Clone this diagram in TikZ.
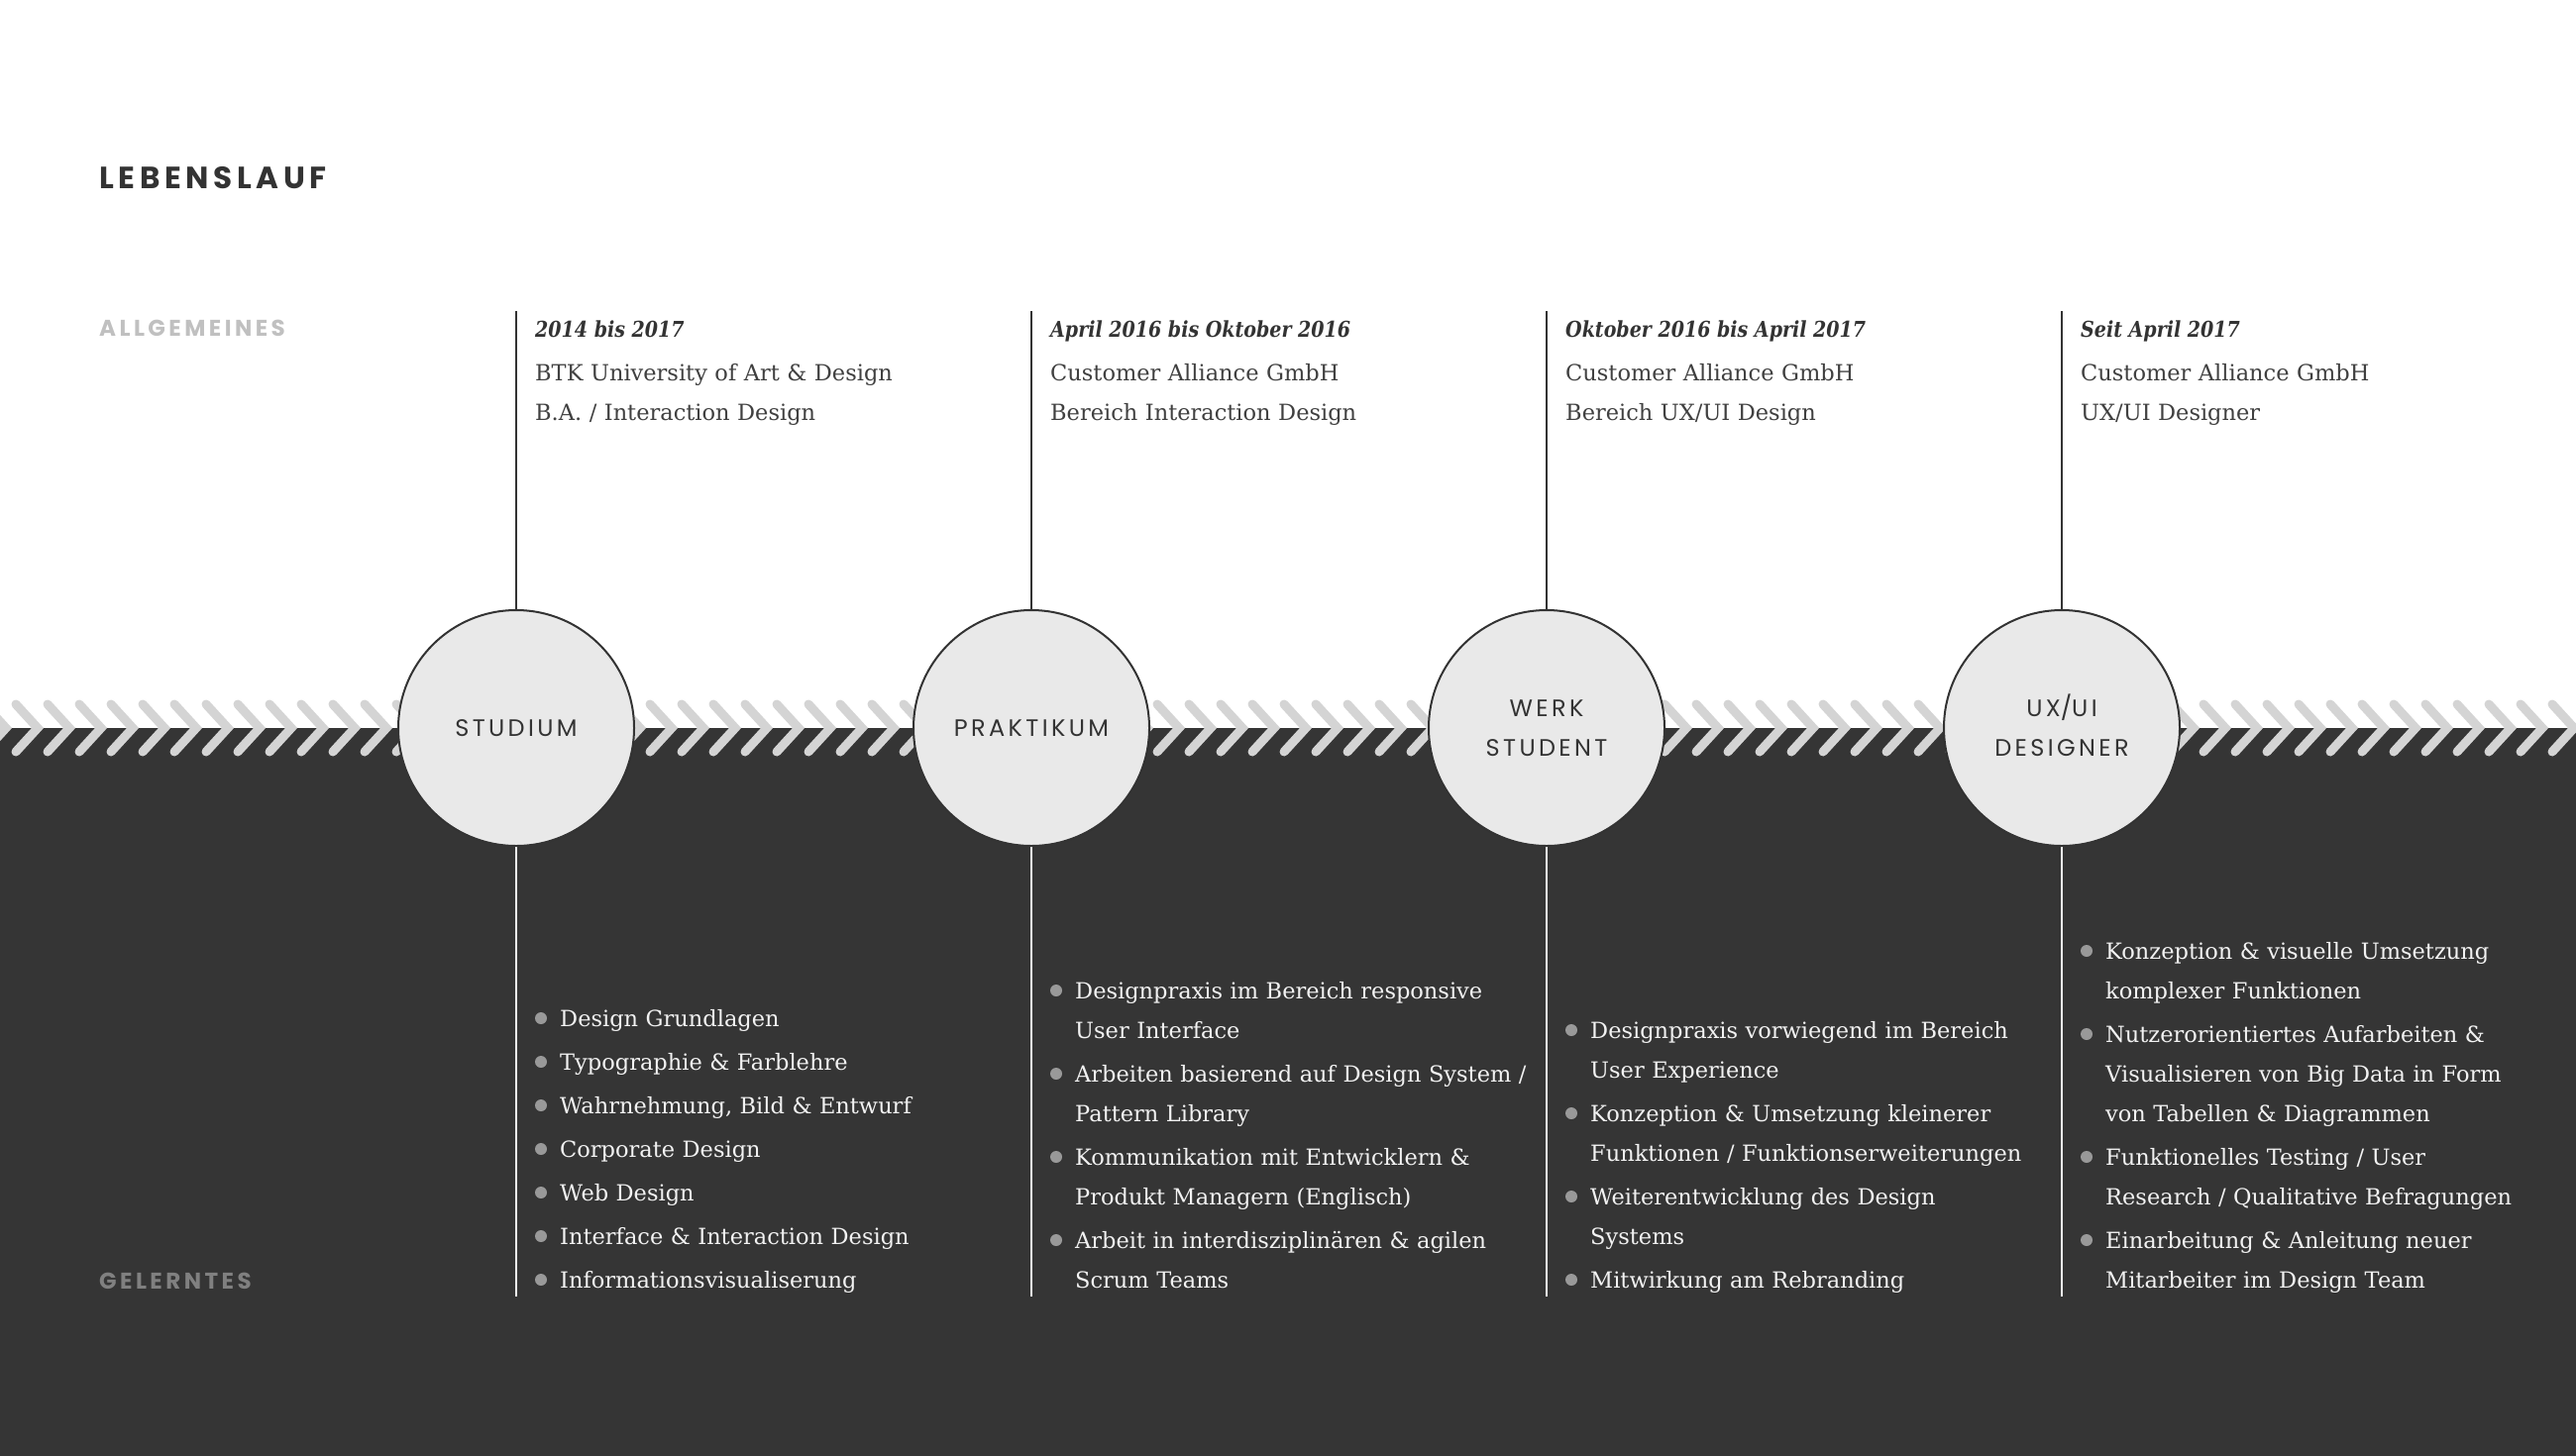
\documentclass[tikz,border=0pt]{standalone}
\usepackage{fontspec}
\setmainfont{DejaVu Serif}
\newfontfamily\headfont[LetterSpace=15]{Poppins}
\newfontfamily\stagefont[LetterSpace=14]{Poppins}
\newfontfamily\datefont[FakeStretch=0.865]{DejaVu Serif}
\definecolor{ink}{HTML}{333333}
\definecolor{bodyink}{HTML}{404040}
\definecolor{darkbg}{HTML}{353535}
\definecolor{chev}{HTML}{D4D4D4}
\definecolor{stagefill}{HTML}{E9E9E9}
\definecolor{lightlabel}{HTML}{C0C0C0}
\definecolor{darklabel}{HTML}{808080}
\definecolor{listink}{HTML}{F2F2F2}
\definecolor{bulletc}{HTML}{999999}
\tikzset{
  stage/.style={circle, draw=ink, line width=2pt, fill=stagefill, minimum size=238pt, inner sep=0pt,
    align=center, text=ink, font=\stagefont\fontsize{24}{40}\selectfont},
  chevron/.style={draw=chev, line width=9pt, line cap=round, line join=miter},
  upline/.style={draw=ink, line width=2pt},
  downline/.style={draw=listink, line width=2pt},
  title/.style={anchor=base west, inner sep=0pt, text=ink, font=\headfont\bfseries\fontsize{31}{36}\selectfont},
  sectionlabel/.style={anchor=base west, inner sep=0pt, font=\headfont\bfseries\fontsize{23}{26}\selectfont},
  datetext/.style={anchor=base west, inner sep=0pt, text=ink, font=\datefont\bfseries\itshape\fontsize{22}{40}\selectfont},
  infotext/.style={anchor=base west, inner sep=0pt, text=bodyink, text width=480pt, align=left, font=\fontsize{22.5}{40}\selectfont},
  itemtext/.style={anchor=base west, inner sep=0pt, text=listink, text width=480pt, align=left, font=\fontsize{22.5}{40}\selectfont},
  bullet/.style={circle, fill=bulletc, inner sep=0pt, minimum size=12pt},
}
\begin{document}
\begin{tikzpicture}[x=1pt,y=-1pt]
\useasboundingbox (0,0) rectangle (2600,1470);
\fill[white] (0,0) rectangle (2600,1470);
\fill[darkbg] (0,735) rectangle (2600,1470);
% chevron band
\foreach \k in {0,...,81}{
  \pgfmathsetmacro{\tx}{6+32*\k}
  \draw[chevron] (\tx-22,711) -- (\tx,735) -- (\tx-22,759);
}
% headings
\node[title] (title) at (100,190) {LEBENSLAUF};
\node[sectionlabel, text=lightlabel] (allg) at (100,339) {ALLGEMEINES};
\node[sectionlabel, text=darklabel] (gel) at (100,1301) {GELERNTES};
% stages
\node[stage] (c1) at (521,735) {STUDIUM};
\node[stage] (c2) at (1041,735) {PRAKTIKUM};
\node[stage] (c3) at (1561,735) {WERK\\STUDENT};
\node[stage] (c4) at (2081,735) {UX\smash{/}UI\\DESIGNER};
% connector ends
\coordinate (t1) at (521,314); \coordinate (b1) at (521,1309);
\coordinate (t2) at (1041,314); \coordinate (b2) at (1041,1309);
\coordinate (t3) at (1561,314); \coordinate (b3) at (1561,1309);
\coordinate (t4) at (2081,314); \coordinate (b4) at (2081,1309);
\foreach \i in {1,2,3,4}{
  \draw[upline] (t\i) -- (c\i.north);
  \draw[downline] (c\i.south) -- (b\i);
}
% top texts
\node[datetext] (d1) at (540,340) {2014 bis 2017};
\node[infotext] (i1) at (540,384) {BTK University of Art \& Design\\B.A. / Interaction Design};
\node[datetext] (d2) at (1060,340) {April 2016 bis Oktober 2016};
\node[infotext] (i2) at (1060,384) {Customer Alliance GmbH\\Bereich Interaction Design};
\node[datetext] (d3) at (1580,340) {Oktober 2016 bis April 2017};
\node[infotext] (i3) at (1580,384) {Customer Alliance GmbH\\Bereich UX/UI Design};
\node[datetext] (d4) at (2100,340) {Seit April 2017};
\node[infotext] (i4) at (2100,384) {Customer Alliance GmbH\\UX/UI Designer};
% column 1 list
\node[bullet] (p1a) at (546,1028) {}; \node[itemtext] (g1a) at (565,1036) {Design Grundlagen};
\node[bullet] (p1b) at (546,1072) {}; \node[itemtext] (g1b) at (565,1080) {Typographie \& Farblehre};
\node[bullet] (p1c) at (546,1116) {}; \node[itemtext] (g1c) at (565,1124) {Wahrnehmung, Bild \& Entwurf};
\node[bullet] (p1d) at (546,1160) {}; \node[itemtext] (g1d) at (565,1168) {Corporate Design};
\node[bullet] (p1e) at (546,1204) {}; \node[itemtext] (g1e) at (565,1212) {Web Design};
\node[bullet] (p1f) at (546,1248) {}; \node[itemtext] (g1f) at (565,1256) {Interface \& Interaction Design};
\node[bullet] (p1g) at (546,1292) {}; \node[itemtext] (g1g) at (565,1300) {Informationsvisualiserung};
% column 2 list
\node[bullet] (p2a) at (1066,1000) {}; \node[itemtext] (g2a) at (1085,1008) {Designpraxis im Bereich responsive\\User Interface};
\node[bullet] (p2b) at (1066,1084) {}; \node[itemtext] (g2b) at (1085,1092) {Arbeiten basierend auf Design System /\\Pattern Library};
\node[bullet] (p2c) at (1066,1168) {}; \node[itemtext] (g2c) at (1085,1176) {Kommunikation mit Entwicklern \&\\Produkt Managern (Englisch)};
\node[bullet] (p2d) at (1066,1252) {}; \node[itemtext] (g2d) at (1085,1260) {Arbeit in interdisziplinären \& agilen\\Scrum Teams};
% column 3 list
\node[bullet] (p3a) at (1586,1040) {}; \node[itemtext] (g3a) at (1605,1048) {Designpraxis vorwiegend im Bereich\\User Experience};
\node[bullet] (p3b) at (1586,1124) {}; \node[itemtext] (g3b) at (1605,1132) {Konzeption \& Umsetzung kleinerer\\Funktionen / Funktionserweiterungen};
\node[bullet] (p3c) at (1586,1208) {}; \node[itemtext] (g3c) at (1605,1216) {Weiterentwicklung des Design\\Systems};
\node[bullet] (p3d) at (1586,1292) {}; \node[itemtext] (g3d) at (1605,1300) {Mitwirkung am Rebranding};
% column 4 list
\node[bullet] (p4a) at (2106,960) {}; \node[itemtext] (g4a) at (2125,968) {Konzeption \& visuelle Umsetzung\\komplexer Funktionen};
\node[bullet] (p4b) at (2106,1044) {}; \node[itemtext] (g4b) at (2125,1052) {Nutzerorientiertes Aufarbeiten \&\\Visualisieren von Big Data in Form\\von Tabellen \& Diagrammen};
\node[bullet] (p4c) at (2106,1168) {}; \node[itemtext] (g4c) at (2125,1176) {Funktionelles Testing / User\\Research / Qualitative Befragungen};
\node[bullet] (p4d) at (2106,1252) {}; \node[itemtext] (g4d) at (2125,1260) {Einarbeitung \& Anleitung neuer\\Mitarbeiter im Design Team};
\end{tikzpicture}
\end{document}
